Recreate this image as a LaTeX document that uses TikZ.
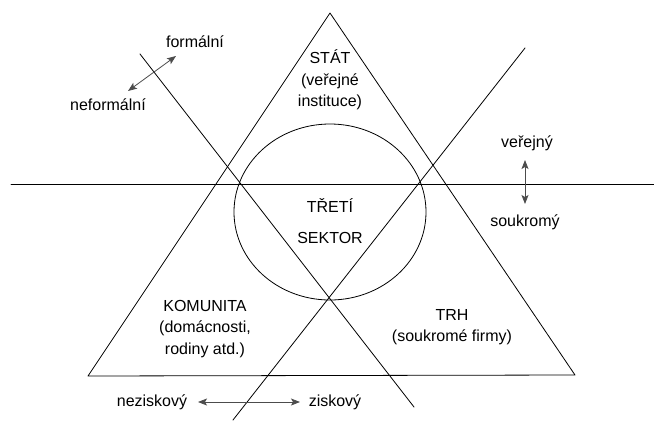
\documentclass[tikz,border=0pt]{standalone}
\usepackage{fontspec}
\setmainfont{Liberation Sans}
\usetikzlibrary{arrows.meta}
\definecolor{darkgr}{rgb}{0.3,0.3,0.3}

\begin{document}
\begin{tikzpicture}[line cap=round,line join=round,>={Stealth[length=9pt,width=7pt,inset=2pt]},x=1pt,y={(0pt,-1pt)},
  frame line/.style={line width=0.8pt},
  dir arrow/.style={<->,line width=0.8pt,color=darkgr},
  lbl/.style={font=\fontsize{16}{21.5}\selectfont,align=center,inner sep=0pt}]
\useasboundingbox (0,0) rectangle (654,421);
% triangle and circle
\coordinate (apex) at (330,13);
\coordinate (bl) at (88,376);
\coordinate (br) at (575,375);
\draw [frame line] (apex) -- (bl) -- (br) -- cycle;
\draw [frame line] (330,212) ellipse (96 and 88);
% the three dividing lines
\coordinate (hl) at (11,184);
\coordinate (hr) at (654,184);
\coordinate (fa) at (140,54);
\coordinate (fb) at (414,407);
\coordinate (ra) at (233,420);
\coordinate (rb) at (525,48);
\draw [frame line] (hl) -- (hr);
\draw [frame line] (fa) -- (fb);
\draw [frame line] (ra) -- (rb);
% labels
\node [lbl] (stat) at (330,80) {STÁT\\(veřejné\\instituce)};
\node [lbl] (tretisektor) at (330,221) {TŘETÍ\\[10pt]SEKTOR};
\node [lbl] (komunita) at (205,329) {KOMUNITA\\(domácnosti,\\rodiny atd.)};
\node [lbl] (trh) at (452,327) {TRH\\(soukromé firmy)};
\node [lbl] (formal) at (195,42) {formální};
\node [lbl] (neformal) at (108,105) {neformální};
\node [lbl] (verejny) at (527,143) {veřejný};
\node [lbl] (soukromy) at (525,222) {soukromý};
\node [lbl] (nezisk) at (152,402) {neziskový};
\node [lbl] (zisk) at (335,402) {ziskový};
% arrows between the opposites
\coordinate (nfa) at (128,91);
\coordinate (fob) at (176,56);
\coordinate (vea) at (525,160);
\coordinate (sob) at (525,204);
\coordinate (nza) at (198,402);
\coordinate (zsb) at (300,402);
\draw [dir arrow] (nfa) -- (fob);
\draw [dir arrow] (vea) -- (sob);
\draw [dir arrow] (nza) -- (zsb);
\end{tikzpicture}
\end{document}
